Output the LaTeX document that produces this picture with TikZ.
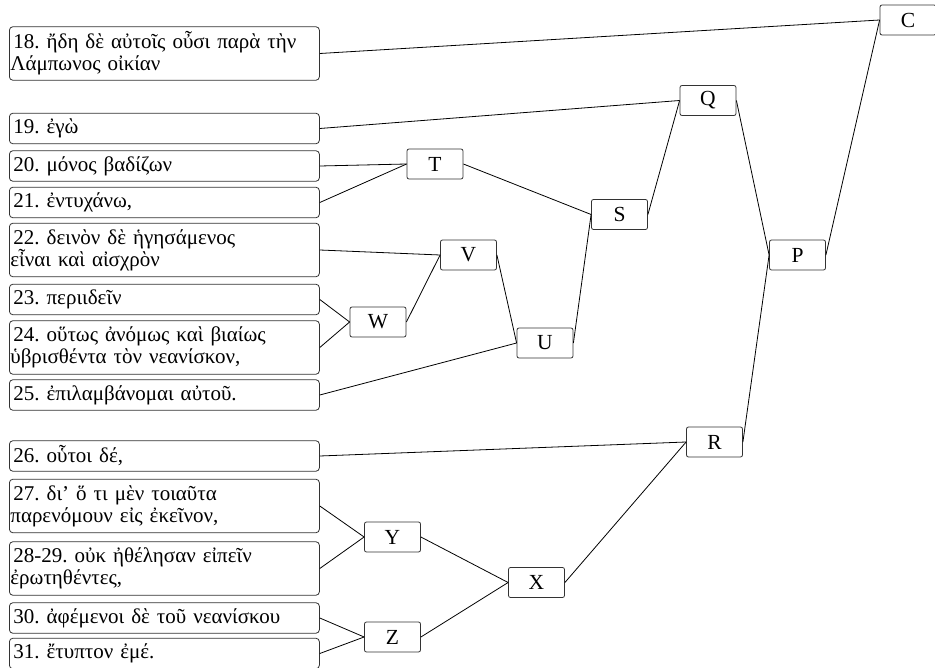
\documentclass[tikz,border=0pt]{standalone}
\usepackage{fontspec}
\setmainfont{Liberation Serif}
\usetikzlibrary{positioning}
\frenchspacing
\tikzset{
  txtbox/.style={draw=black!80, rounded corners=3.5pt, anchor=west, text width=308pt, align=left,
    inner xsep=1pt, inner ysep=1pt, minimum height=30.5pt, line width=0.8pt,
    execute at begin node=\hspace*{3pt}, font=\fontsize{21}{22}\selectfont},
  tallbox/.style={txtbox, minimum height=53.5pt},
  letbox/.style={draw=black!80, rounded corners=2pt, minimum width=56pt, minimum height=30pt,
    inner sep=0pt, line width=0.8pt, font=\fontsize{21.5}{22}\selectfont},
  link/.style={black, line width=0.8pt}
}
\begin{document}
\begin{tikzpicture}[x=1pt, y=-1pt]
  \useasboundingbox (0,0) rectangle (935,668);
  % clauses
  \node[tallbox] (t18) at (9,53.5) {18. ἤδη δὲ αὐτοῖς οὖσι παρὰ τὴν\\Λάμπωνος οἰκίαν};
  \node[txtbox] (t19) at (9,128.5) {19. ἐγὼ};
  \node[txtbox] (t20) at (9,166) {20. μόνος βαδίζων};
  \node[txtbox] (t21) at (9,202.5) {21. ἐντυχάνω,};
  \node[tallbox] (t22) at (9,250) {22. δεινὸν δὲ ἡγησάμενος\\εἶναι καὶ αἰσχρὸν};
  \node[txtbox] (t23) at (9,299.5) {23. περιιδεῖν};
  \node[tallbox] (t24) at (9,347.5) {24. οὕτως ἀνόμως καὶ βιαίως\\ὑβρισθέντα τὸν νεανίσκον,};
  \node[txtbox] (t25) at (9,395) {25. ἐπιλαμβάνομαι αὐτοῦ.};
  \node[txtbox] (t26) at (9,456) {26. οὗτοι δέ,};
  \node[tallbox] (t27) at (9,506) {27. δι’ ὅ τι μὲν τοιαῦτα\\παρενόμουν εἰς ἐκεῖνον,};
  \node[tallbox] (t28) at (9,568.5) {28-29. οὐκ ἠθέλησαν εἰπεῖν\\ἐρωτηθέντες,};
  \node[txtbox] (t30) at (9,618) {30. ἀφέμενοι δὲ τοῦ νεανίσκου};
  \node[txtbox] (t31) at (9,653.5) {31. ἔτυπτον ἐμέ.};
  % relation nodes
  \node[letbox] (C) at (908,20) {C};
  \node[letbox] (Q) at (708,100.5) {Q};
  \node[letbox] (T) at (435,164) {T};
  \node[letbox] (S) at (619.5,214.5) {S};
  \node[letbox] (V) at (468.5,255) {V};
  \node[letbox] (P) at (797.5,255) {P};
  \node[letbox] (W) at (378,322) {W};
  \node[letbox] (U) at (545,343) {U};
  \node[letbox] (R) at (714.5,442) {R};
  \node[letbox] (Y) at (392.5,537) {Y};
  \node[letbox] (X) at (536.5,582.5) {X};
  \node[letbox] (Z) at (392.5,637) {Z};
  % links
  \draw[link] (t18.east) -- (C.west);
  \draw[link] (t19.east) -- (Q.west);
  \draw[link] (t20.east) -- (T.west);
  \draw[link] (t21.east) -- (T.west);
  \draw[link] (t22.east) -- (V.west);
  \draw[link] (t23.east) -- (W.west);
  \draw[link] (t24.east) -- (W.west);
  \draw[link] (t25.east) -- (U.west);
  \draw[link] (t26.east) -- (R.west);
  \draw[link] (t27.east) -- (Y.west);
  \draw[link] (t28.east) -- (Y.west);
  \draw[link] (t30.east) -- (Z.west);
  \draw[link] (t31.east) -- (Z.west);
  \draw[link] (T.east) -- (S.west);
  \draw[link] (W.east) -- (V.west);
  \draw[link] (V.east) -- (U.west);
  \draw[link] (U.east) -- (S.west);
  \draw[link] (S.east) -- (Q.west);
  \draw[link] (Q.east) -- (P.west);
  \draw[link] (Y.east) -- (X.west);
  \draw[link] (Z.east) -- (X.west);
  \draw[link] (X.east) -- (R.west);
  \draw[link] (R.east) -- (P.west);
  \draw[link] (P.east) -- (C.west);
\end{tikzpicture}
\end{document}
